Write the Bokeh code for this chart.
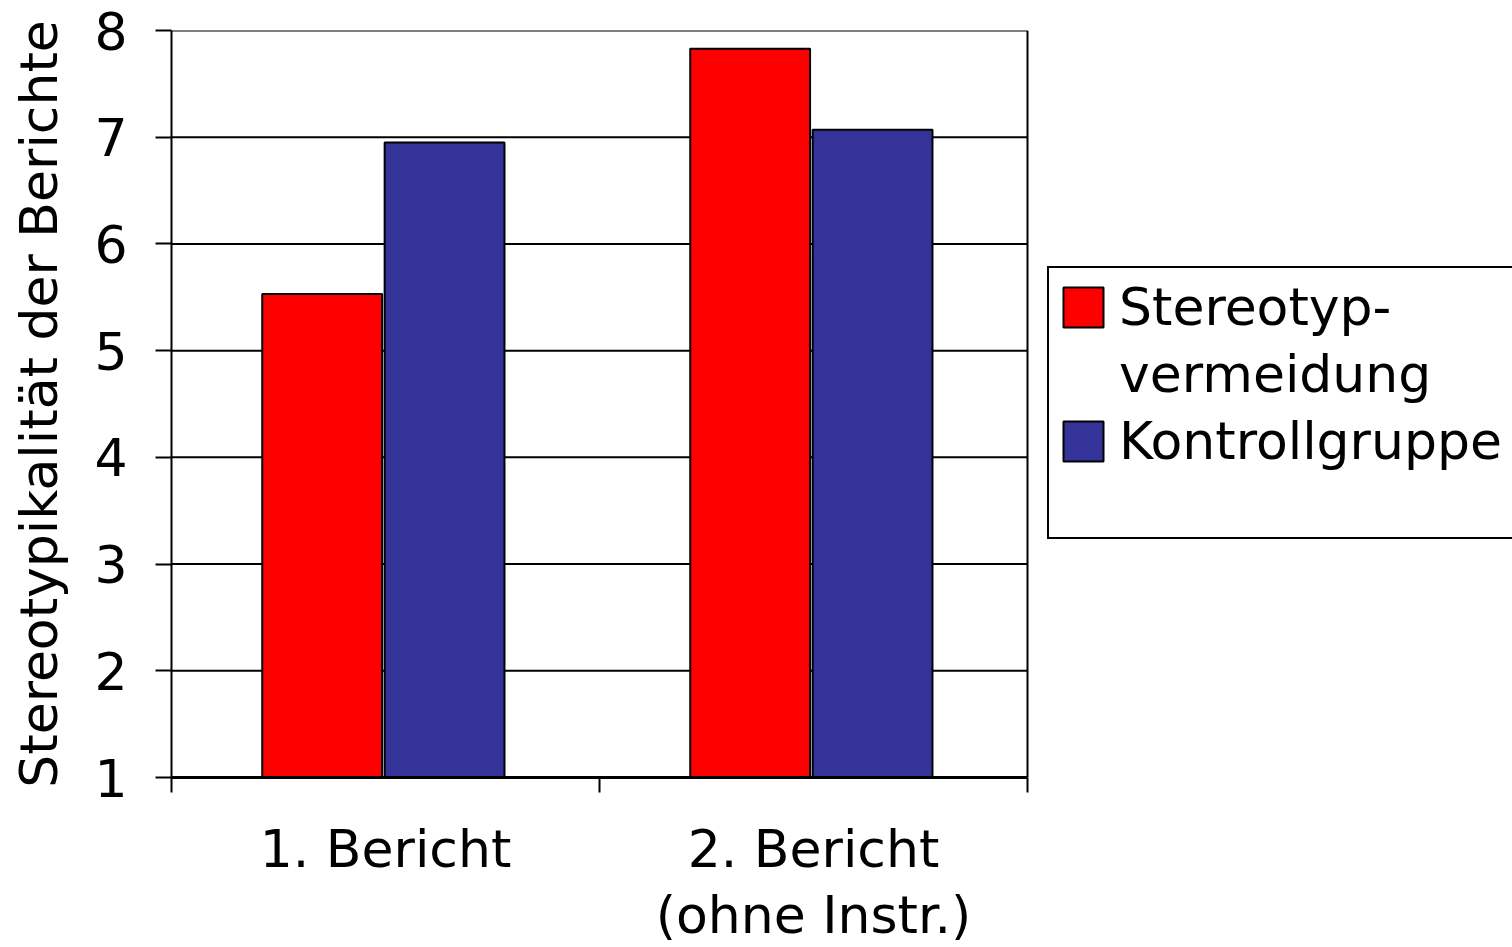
from bokeh.plotting import figure
from bokeh.models import FixedTicker, Legend, LegendItem, Range1d
from bokeh.embed import file_html
from bokeh.resources import INLINE

categories = ["1. Bericht", "2. Bericht\n(ohne Instr.)"]
series_names = ["Stereotyp-\nvermeidung", "Kontrollgruppe"]
stereotyp = [5.53, 7.83]
kontroll = [6.95, 7.07]
colors = ["#FF0000", "#333399"]
y_ticks = [1, 2, 3, 4, 5, 6, 7, 8]
y_title = "Stereotypikalität der Berichte"

FONT = "DejaVu Sans"
FS = "52px"

W, H = 1512, 947
FL, FR, FT, FB = 171, 1027, 30, 777  # frame of the data area in pixels
n = len(categories)
# the frame is extended to the right canvas edge so that the legend is not clipped
x_end = n * (W - FL) / (FR - FL)

p = figure(width=W, height=H, output_backend="svg", toolbar_location=None,
           x_range=Range1d(0, x_end), y_range=Range1d(y_ticks[0], y_ticks[-1]),
           min_border_left=FL, min_border_right=0, min_border_top=FT, min_border_bottom=H - FB)

p.outline_line_color = None
p.background_fill_color = "white"
p.xgrid.visible = False
p.ygrid.visible = False

# horizontal grid lines and right frame edge over the data area only
p.segment(x0=0, x1=n, y0=y_ticks, y1=y_ticks, line_color="black", line_width=2)
p.segment(x0=[n], x1=[n], y0=[y_ticks[0]], y1=[y_ticks[-1]], line_color="black", line_width=2)

centers = [i + 0.5 for i in range(n)]
bw = 0.28
r1 = p.vbar(x=[c - 0.148 for c in centers], top=stereotyp, bottom=y_ticks[0], width=bw,
            fill_color=colors[0], line_color="black", line_width=2)
r2 = p.vbar(x=[c + 0.138 for c in centers], top=kontroll, bottom=y_ticks[0], width=bw,
            fill_color=colors[1], line_color="black", line_width=2)
rb = p.vbar(x=[], top=[], bottom=0, width=bw, fill_alpha=0, line_alpha=0)

ya = p.yaxis[0]
ya.ticker = FixedTicker(ticks=y_ticks, minor_ticks=[])
ya.major_tick_out = 16
ya.major_tick_in = 0
ya.major_tick_line_width = 2
ya.major_tick_line_color = "black"
ya.minor_tick_line_color = None
ya.axis_line_width = 2
ya.axis_line_color = "black"
ya.major_label_text_font = FONT
ya.major_label_text_font_size = FS
ya.major_label_text_color = "black"
ya.major_label_standoff = 28
ya.axis_label = y_title
ya.axis_label_text_font = FONT
ya.axis_label_text_font_size = FS
ya.axis_label_text_font_style = "normal"
ya.axis_label_text_color = "black"
ya.axis_label_standoff = 22

xa = p.xaxis[0]
xa.bounds = (0, n)
xa.ticker = FixedTicker(ticks=centers, minor_ticks=list(range(n + 1)))
xa.major_label_overrides = {c: lab for c, lab in zip(centers, categories)}
xa.major_tick_out = 0
xa.major_tick_in = 0
xa.minor_tick_out = 15
xa.minor_tick_in = 0
xa.minor_tick_line_width = 2
xa.minor_tick_line_color = "black"
xa.axis_line_width = 3
xa.axis_line_color = "black"
xa.major_label_text_font = FONT
xa.major_label_text_font_size = FS
xa.major_label_text_line_height = 1.1
xa.major_label_text_color = "black"
xa.major_label_standoff = 26
xa.axis_label_standoff = 0

# legend: the wrapped first series name is split into two rows so the swatch sits on the first line
name_rows = series_names[0].split("\n")
items = [LegendItem(label=name_rows[0], renderers=[r1])]
items += [LegendItem(label=row, renderers=[rb]) for row in name_rows[1:]]
items += [LegendItem(label=series_names[1], renderers=[r2]),
          LegendItem(label=" ", renderers=[rb])]
legend = Legend(items=items, location=(1047 - FL, FB - 539))
legend.border_line_color = "black"
legend.border_line_alpha = 1.0
legend.border_line_width = 2
legend.background_fill_color = "white"
legend.background_fill_alpha = 1.0
legend.label_text_font = FONT
legend.label_text_font_size = FS
legend.label_text_color = "black"
legend.label_width = 410
legend.glyph_width = 50
legend.glyph_height = 50
legend.label_standoff = 11
legend.padding = 9
legend.spacing = 7
legend.margin = 0
p.add_layout(legend, "center")

open("out.html", "w").write(file_html(p, INLINE))
